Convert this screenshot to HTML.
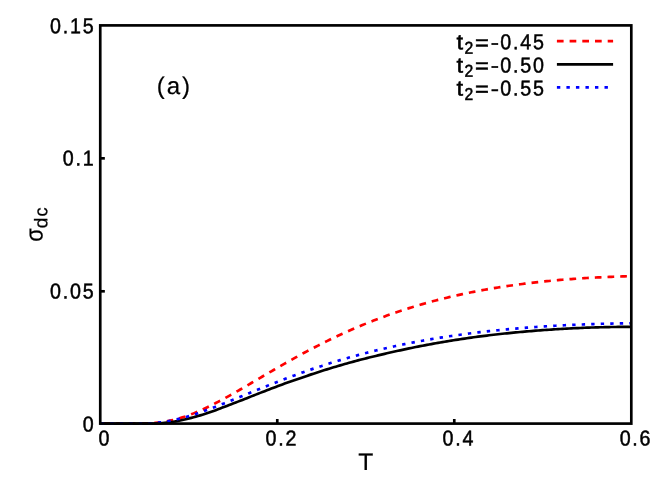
<!DOCTYPE html>
<html><head><meta charset="utf-8"><title>plot</title>
<style>
html,body{margin:0;padding:0;background:#fff;}
svg{display:block;will-change:transform;}
text{font-family:"Liberation Sans",sans-serif;fill:#000;}
</style></head>
<body>
<svg width="664" height="498" viewBox="0 0 664 498">
<rect width="664" height="498" fill="#fff"/>
<path d="M100.25,423.70 L102.47,423.70 L104.69,423.70 L106.92,423.70 L109.14,423.70 L111.36,423.70 L113.58,423.70 L115.80,423.70 L118.03,423.70 L120.25,423.70 L122.47,423.70 L124.69,423.70 L126.91,423.70 L129.14,423.70 L131.36,423.70 L133.58,423.70 L135.80,423.70 L138.02,423.70 L140.25,423.70 L142.47,423.70 L144.69,423.68 L146.91,423.59 L149.13,423.47 L151.36,423.33 L153.58,423.15 L155.80,422.94 L158.02,422.70 L160.24,422.42 L162.47,422.10 L164.69,421.74 L166.91,421.35 L169.13,420.91 L171.35,420.42 L173.57,419.90 L175.80,419.33 L178.02,418.72 L180.24,418.08 L182.46,417.39 L184.68,416.66 L186.91,415.89 L189.13,415.09 L191.35,414.25 L193.57,413.38 L195.79,412.47 L198.02,411.53 L200.24,410.57 L202.46,409.57 L204.68,408.54 L206.90,407.49 L209.13,406.41 L211.35,405.31 L213.57,404.19 L215.79,403.05 L218.01,401.89 L220.24,400.71 L222.46,399.52 L224.68,398.30 L226.90,397.08 L229.12,395.84 L231.35,394.60 L233.57,393.34 L235.79,392.07 L238.01,390.79 L240.23,389.51 L242.46,388.22 L244.68,386.93 L246.90,385.63 L249.12,384.32 L251.34,383.02 L253.57,381.71 L255.79,380.40 L258.01,379.10 L260.23,377.79 L262.45,376.48 L264.68,375.18 L266.90,373.87 L269.12,372.58 L271.34,371.28 L273.56,369.99 L275.79,368.70 L278.01,367.42 L280.23,366.14 L282.45,364.87 L284.67,363.60 L286.90,362.34 L289.12,361.09 L291.34,359.85 L293.56,358.61 L295.78,357.38 L298.01,356.16 L300.23,354.95 L302.45,353.74 L304.67,352.55 L306.89,351.36 L309.11,350.18 L311.34,349.02 L313.56,347.86 L315.78,346.71 L318.00,345.57 L320.22,344.45 L322.45,343.33 L324.67,342.22 L326.89,341.12 L329.11,340.04 L331.33,338.96 L333.56,337.90 L335.78,336.84 L338.00,335.80 L340.22,334.77 L342.44,333.74 L344.67,332.73 L346.89,331.73 L349.11,330.74 L351.33,329.77 L353.55,328.80 L355.78,327.84 L358.00,326.90 L360.22,325.96 L362.44,325.04 L364.66,324.13 L366.89,323.23 L369.11,322.34 L371.33,321.46 L373.55,320.59 L375.77,319.73 L378.00,318.88 L380.22,318.05 L382.44,317.22 L384.66,316.41 L386.88,315.60 L389.11,314.81 L391.33,314.03 L393.55,313.25 L395.77,312.49 L397.99,311.74 L400.22,311.00 L402.44,310.27 L404.66,309.55 L406.88,308.84 L409.10,308.14 L411.33,307.44 L413.55,306.76 L415.77,306.09 L417.99,305.43 L420.21,304.78 L422.44,304.14 L424.66,303.50 L426.88,302.88 L429.10,302.27 L431.32,301.66 L433.54,301.07 L435.77,300.48 L437.99,299.90 L440.21,299.34 L442.43,298.78 L444.65,298.23 L446.88,297.69 L449.10,297.15 L451.32,296.63 L453.54,296.11 L455.76,295.61 L457.99,295.11 L460.21,294.62 L462.43,294.14 L464.65,293.66 L466.87,293.20 L469.10,292.74 L471.32,292.29 L473.54,291.85 L475.76,291.41 L477.98,290.99 L480.21,290.57 L482.43,290.16 L484.65,289.75 L486.87,289.36 L489.09,288.97 L491.32,288.58 L493.54,288.21 L495.76,287.84 L497.98,287.48 L500.20,287.13 L502.43,286.78 L504.65,286.44 L506.87,286.11 L509.09,285.78 L511.31,285.46 L513.54,285.15 L515.76,284.84 L517.98,284.54 L520.20,284.24 L522.42,283.96 L524.65,283.67 L526.87,283.40 L529.09,283.13 L531.31,282.86 L533.53,282.61 L535.76,282.35 L537.98,282.11 L540.20,281.87 L542.42,281.63 L544.64,281.40 L546.87,281.18 L549.09,280.96 L551.31,280.75 L553.53,280.54 L555.75,280.34 L557.98,280.14 L560.20,279.95 L562.42,279.76 L564.64,279.58 L566.86,279.40 L569.08,279.23 L571.31,279.06 L573.53,278.90 L575.75,278.74 L577.97,278.59 L580.19,278.44 L582.42,278.29 L584.64,278.15 L586.86,278.02 L589.08,277.89 L591.30,277.76 L593.53,277.64 L595.75,277.52 L597.97,277.41 L600.19,277.30 L602.41,277.19 L604.64,277.09 L606.86,276.99 L609.08,276.90 L611.30,276.81 L613.52,276.73 L615.75,276.64 L617.97,276.56 L620.19,276.49 L622.41,276.42 L624.63,276.35 L626.86,276.29 L629.08,276.23 L631.30,276.17" fill="none" stroke="#ff0000" stroke-width="2.67" stroke-dasharray="6.7 6" stroke-dashoffset="-3.1"/>
<path d="M100.25,423.70 L102.47,423.70 L104.69,423.70 L106.92,423.70 L109.14,423.70 L111.36,423.70 L113.58,423.70 L115.80,423.70 L118.03,423.70 L120.25,423.70 L122.47,423.70 L124.69,423.70 L126.91,423.70 L129.14,423.70 L131.36,423.70 L133.58,423.70 L135.80,423.70 L138.02,423.70 L140.25,423.70 L142.47,423.70 L144.69,423.70 L146.91,423.70 L149.13,423.70 L151.36,423.70 L153.58,423.70 L155.80,423.63 L158.02,423.50 L160.24,423.33 L162.47,423.14 L164.69,422.91 L166.91,422.66 L169.13,422.38 L171.35,422.07 L173.57,421.72 L175.80,421.33 L178.02,420.90 L180.24,420.44 L182.46,419.97 L184.68,419.48 L186.91,418.96 L189.13,418.42 L191.35,417.85 L193.57,417.25 L195.79,416.64 L198.02,416.00 L200.24,415.35 L202.46,414.68 L204.68,413.99 L206.90,413.27 L209.13,412.52 L211.35,411.75 L213.57,410.95 L215.79,410.14 L218.01,409.31 L220.24,408.47 L222.46,407.62 L224.68,406.76 L226.90,405.90 L229.12,405.05 L231.35,404.20 L233.57,403.34 L235.79,402.48 L238.01,401.62 L240.23,400.76 L242.46,399.89 L244.68,399.02 L246.90,398.14 L249.12,397.26 L251.34,396.38 L253.57,395.50 L255.79,394.63 L258.01,393.75 L260.23,392.88 L262.45,392.01 L264.68,391.15 L266.90,390.29 L269.12,389.44 L271.34,388.59 L273.56,387.75 L275.79,386.91 L278.01,386.08 L280.23,385.25 L282.45,384.43 L284.67,383.62 L286.90,382.82 L289.12,382.03 L291.34,381.24 L293.56,380.46 L295.78,379.69 L298.01,378.93 L300.23,378.16 L302.45,377.40 L304.67,376.65 L306.89,375.89 L309.11,375.13 L311.34,374.39 L313.56,373.65 L315.78,372.92 L318.00,372.19 L320.22,371.48 L322.45,370.77 L324.67,370.07 L326.89,369.37 L329.11,368.68 L331.33,368.00 L333.56,367.33 L335.78,366.67 L338.00,366.01 L340.22,365.36 L342.44,364.71 L344.67,364.08 L346.89,363.45 L349.11,362.82 L351.33,362.21 L353.55,361.60 L355.78,361.00 L358.00,360.41 L360.22,359.83 L362.44,359.25 L364.66,358.68 L366.89,358.12 L369.11,357.56 L371.33,357.01 L373.55,356.47 L375.77,355.93 L378.00,355.40 L380.22,354.87 L382.44,354.35 L384.66,353.83 L386.88,353.32 L389.11,352.81 L391.33,352.30 L393.55,351.80 L395.77,351.31 L397.99,350.81 L400.22,350.33 L402.44,349.84 L404.66,349.37 L406.88,348.89 L409.10,348.43 L411.33,347.97 L413.55,347.51 L415.77,347.06 L417.99,346.61 L420.21,346.18 L422.44,345.74 L424.66,345.32 L426.88,344.90 L429.10,344.48 L431.32,344.08 L433.54,343.68 L435.77,343.28 L437.99,342.89 L440.21,342.50 L442.43,342.12 L444.65,341.74 L446.88,341.37 L449.10,341.01 L451.32,340.64 L453.54,340.29 L455.76,339.94 L457.99,339.59 L460.21,339.25 L462.43,338.91 L464.65,338.58 L466.87,338.25 L469.10,337.92 L471.32,337.61 L473.54,337.29 L475.76,336.99 L477.98,336.69 L480.21,336.39 L482.43,336.11 L484.65,335.82 L486.87,335.55 L489.09,335.28 L491.32,335.02 L493.54,334.76 L495.76,334.50 L497.98,334.25 L500.20,334.01 L502.43,333.77 L504.65,333.53 L506.87,333.30 L509.09,333.08 L511.31,332.85 L513.54,332.63 L515.76,332.42 L517.98,332.21 L520.20,332.00 L522.42,331.80 L524.65,331.61 L526.87,331.42 L529.09,331.23 L531.31,331.05 L533.53,330.87 L535.76,330.70 L537.98,330.53 L540.20,330.36 L542.42,330.20 L544.64,330.04 L546.87,329.88 L549.09,329.73 L551.31,329.57 L553.53,329.43 L555.75,329.28 L557.98,329.14 L560.20,329.00 L562.42,328.87 L564.64,328.74 L566.86,328.61 L569.08,328.49 L571.31,328.38 L573.53,328.26 L575.75,328.16 L577.97,328.05 L580.19,327.96 L582.42,327.86 L584.64,327.77 L586.86,327.69 L589.08,327.61 L591.30,327.53 L593.53,327.46 L595.75,327.39 L597.97,327.33 L600.19,327.27 L602.41,327.21 L604.64,327.16 L606.86,327.12 L609.08,327.08 L611.30,327.04 L613.52,327.01 L615.75,326.98 L617.97,326.95 L620.19,326.93 L622.41,326.92 L624.63,326.90 L626.86,326.90 L629.08,326.89 L631.30,326.90" fill="none" stroke="#000" stroke-width="2.67"/>
<path d="M100.25,423.70 L102.47,423.70 L104.69,423.70 L106.92,423.70 L109.14,423.70 L111.36,423.70 L113.58,423.70 L115.80,423.70 L118.03,423.70 L120.25,423.70 L122.47,423.70 L124.69,423.70 L126.91,423.70 L129.14,423.70 L131.36,423.70 L133.58,423.70 L135.80,423.70 L138.02,423.70 L140.25,423.70 L142.47,423.70 L144.69,423.64 L146.91,423.54 L149.13,423.41 L151.36,423.26 L153.58,423.08 L155.80,422.88 L158.02,422.64 L160.24,422.37 L162.47,422.07 L164.69,421.73 L166.91,421.37 L169.13,420.97 L171.35,420.54 L173.57,420.07 L175.80,419.58 L178.02,419.06 L180.24,418.50 L182.46,417.92 L184.68,417.32 L186.91,416.68 L189.13,416.02 L191.35,415.34 L193.57,414.64 L195.79,413.92 L198.02,413.17 L200.24,412.41 L202.46,411.63 L204.68,410.84 L206.90,410.03 L209.13,409.21 L211.35,408.37 L213.57,407.52 L215.79,406.67 L218.01,405.80 L220.24,404.93 L222.46,404.04 L224.68,403.15 L226.90,402.26 L229.12,401.36 L231.35,400.46 L233.57,399.55 L235.79,398.64 L238.01,397.73 L240.23,396.82 L242.46,395.90 L244.68,394.99 L246.90,394.08 L249.12,393.16 L251.34,392.25 L253.57,391.34 L255.79,390.44 L258.01,389.53 L260.23,388.63 L262.45,387.73 L264.68,386.84 L266.90,385.95 L269.12,385.07 L271.34,384.19 L273.56,383.31 L275.79,382.44 L278.01,381.58 L280.23,380.72 L282.45,379.87 L284.67,379.02 L286.90,378.18 L289.12,377.34 L291.34,376.52 L293.56,375.70 L295.78,374.88 L298.01,374.08 L300.23,373.28 L302.45,372.48 L304.67,371.70 L306.89,370.92 L309.11,370.15 L311.34,369.38 L313.56,368.63 L315.78,367.88 L318.00,367.14 L320.22,366.41 L322.45,365.68 L324.67,364.96 L326.89,364.25 L329.11,363.55 L331.33,362.85 L333.56,362.17 L335.78,361.49 L338.00,360.81 L340.22,360.15 L342.44,359.49 L344.67,358.84 L346.89,358.20 L349.11,357.57 L351.33,356.94 L353.55,356.33 L355.78,355.71 L358.00,355.11 L360.22,354.52 L362.44,353.93 L364.66,353.35 L366.89,352.77 L369.11,352.21 L371.33,351.65 L373.55,351.09 L375.77,350.55 L378.00,350.01 L380.22,349.48 L382.44,348.96 L384.66,348.44 L386.88,347.93 L389.11,347.43 L391.33,346.94 L393.55,346.45 L395.77,345.97 L397.99,345.49 L400.22,345.02 L402.44,344.56 L404.66,344.11 L406.88,343.66 L409.10,343.21 L411.33,342.78 L413.55,342.35 L415.77,341.93 L417.99,341.51 L420.21,341.10 L422.44,340.69 L424.66,340.30 L426.88,339.90 L429.10,339.52 L431.32,339.14 L433.54,338.76 L435.77,338.39 L437.99,338.03 L440.21,337.67 L442.43,337.32 L444.65,336.97 L446.88,336.63 L449.10,336.30 L451.32,335.97 L453.54,335.65 L455.76,335.33 L457.99,335.01 L460.21,334.70 L462.43,334.40 L464.65,334.10 L466.87,333.81 L469.10,333.52 L471.32,333.24 L473.54,332.96 L475.76,332.69 L477.98,332.42 L480.21,332.16 L482.43,331.90 L484.65,331.65 L486.87,331.40 L489.09,331.15 L491.32,330.91 L493.54,330.68 L495.76,330.44 L497.98,330.22 L500.20,330.00 L502.43,329.78 L504.65,329.56 L506.87,329.35 L509.09,329.15 L511.31,328.95 L513.54,328.75 L515.76,328.56 L517.98,328.37 L520.20,328.18 L522.42,328.00 L524.65,327.83 L526.87,327.65 L529.09,327.48 L531.31,327.32 L533.53,327.16 L535.76,327.00 L537.98,326.84 L540.20,326.69 L542.42,326.55 L544.64,326.40 L546.87,326.26 L549.09,326.13 L551.31,325.99 L553.53,325.86 L555.75,325.74 L557.98,325.61 L560.20,325.49 L562.42,325.38 L564.64,325.26 L566.86,325.15 L569.08,325.05 L571.31,324.94 L573.53,324.84 L575.75,324.74 L577.97,324.65 L580.19,324.56 L582.42,324.47 L584.64,324.38 L586.86,324.30 L589.08,324.22 L591.30,324.14 L593.53,324.07 L595.75,323.99 L597.97,323.92 L600.19,323.86 L602.41,323.79 L604.64,323.73 L606.86,323.68 L609.08,323.62 L611.30,323.57 L613.52,323.52 L615.75,323.47 L617.97,323.42 L620.19,323.38 L622.41,323.34 L624.63,323.30 L626.86,323.26 L629.08,323.23 L631.30,323.20" fill="none" stroke="#0000ff" stroke-width="2.67" stroke-dasharray="3.4 6.12" stroke-dashoffset="-0.53"/>
<rect x="100.25" y="25.4" width="531.05" height="398.20" fill="none" stroke="#000" stroke-width="2.67"/>
<line x1="100.25" y1="291.30" x2="104.85" y2="291.30" stroke="#000" stroke-width="2.67"/>
<line x1="100.25" y1="158.35" x2="104.85" y2="158.35" stroke="#000" stroke-width="2.67"/>
<line x1="277.27" y1="423.6" x2="277.27" y2="419.0" stroke="#000" stroke-width="2.67"/>
<line x1="454.28" y1="423.6" x2="454.28" y2="419.0" stroke="#000" stroke-width="2.67"/>
<line x1="556.9" y1="41.2" x2="613.1" y2="41.2" stroke="#ff0000" stroke-width="2.67" stroke-dasharray="6.7 6"/>
<line x1="556.9" y1="64.3" x2="613.1" y2="64.3" stroke="#000" stroke-width="2.67"/>
<line x1="556.9" y1="87.4" x2="613.1" y2="87.4" stroke="#0000ff" stroke-width="2.67" stroke-dasharray="3.4 6.12"/>
<text transform="translate(49.18,33.25) rotate(0.03) scale(0.91,1)" font-size="21.6" stroke="#000" stroke-width="0.5" text-anchor="middle" x="6.99 17.97 28.95 42.92">0.15</text>
<text transform="translate(61.90,165.50) rotate(0.03) scale(0.91,1)" font-size="21.6" stroke="#000" stroke-width="0.5" text-anchor="middle" x="6.99 17.97 28.95">0.1</text>
<text transform="translate(49.18,298.55) rotate(0.03) scale(0.91,1)" font-size="21.6" stroke="#000" stroke-width="0.5" text-anchor="middle" x="6.99 17.97 28.95 42.92">0.05</text>
<text transform="translate(81.89,431.45) rotate(0.03) scale(0.91,1)" font-size="21.6" stroke="#000" stroke-width="0.5" text-anchor="middle" x="6.99">0</text>
<text transform="translate(97.69,445.40) rotate(0.03) scale(0.91,1)" font-size="21.6" stroke="#000" stroke-width="0.5" text-anchor="middle" x="6.99">0</text>
<text transform="translate(264.71,445.40) rotate(0.03) scale(0.91,1)" font-size="21.6" stroke="#000" stroke-width="0.5" text-anchor="middle" x="6.99 17.97 28.95">0.2</text>
<text transform="translate(441.73,445.40) rotate(0.03) scale(0.91,1)" font-size="21.6" stroke="#000" stroke-width="0.5" text-anchor="middle" x="6.99 17.97 28.95">0.4</text>
<text transform="translate(618.75,445.40) rotate(0.03) scale(0.91,1)" font-size="21.6" stroke="#000" stroke-width="0.5" text-anchor="middle" x="6.99 17.97 28.95">0.6</text>
<text transform="translate(358.31,470.00) rotate(0.03) scale(1.03,1)" font-size="23.9" stroke="#000" stroke-width="0.2" text-anchor="middle" x="7.18">T</text>
<text transform="translate(155.35,94.00) rotate(0.03) scale(1.0,1)" font-size="24.1" stroke="#000" stroke-width="0.2" text-anchor="middle" x="5.45 18.11 30.76">(a)</text>
<text transform="translate(455.80,49.35) rotate(0.03) scale(1.1,1)" font-size="21.6" stroke="#000" stroke-width="0.5" text-anchor="middle" x="3.58">t</text>
<text transform="translate(463.68,53.75) rotate(0.03) scale(0.91,1)" font-size="17.28" stroke="#000" stroke-width="0.5" text-anchor="middle" x="5.59">2</text>
<text transform="translate(473.85,49.95) rotate(0.03) scale(1.1,1)" font-size="21.6" stroke="#000" stroke-width="0.5" text-anchor="middle" x="7.44">=</text>
<text transform="translate(490.22,49.75) rotate(0.03) scale(1.14,1)" font-size="21.6" stroke="#000" stroke-width="0.5" text-anchor="middle" x="3.98">-</text>
<text transform="translate(499.30,49.35) rotate(0.03) scale(0.91,1)" font-size="21.6" stroke="#000" stroke-width="0.5" text-anchor="middle" x="6.99 17.97 28.95 42.92">0.45</text>
<text transform="translate(455.80,72.45) rotate(0.03) scale(1.1,1)" font-size="21.6" stroke="#000" stroke-width="0.5" text-anchor="middle" x="3.58">t</text>
<text transform="translate(463.68,76.85) rotate(0.03) scale(0.91,1)" font-size="17.28" stroke="#000" stroke-width="0.5" text-anchor="middle" x="5.59">2</text>
<text transform="translate(473.85,73.05) rotate(0.03) scale(1.1,1)" font-size="21.6" stroke="#000" stroke-width="0.5" text-anchor="middle" x="7.44">=</text>
<text transform="translate(490.22,72.85) rotate(0.03) scale(1.14,1)" font-size="21.6" stroke="#000" stroke-width="0.5" text-anchor="middle" x="3.98">-</text>
<text transform="translate(499.30,72.45) rotate(0.03) scale(0.91,1)" font-size="21.6" stroke="#000" stroke-width="0.5" text-anchor="middle" x="6.99 17.97 28.95 42.92">0.50</text>
<text transform="translate(455.80,95.55) rotate(0.03) scale(1.1,1)" font-size="21.6" stroke="#000" stroke-width="0.5" text-anchor="middle" x="3.58">t</text>
<text transform="translate(463.68,99.95) rotate(0.03) scale(0.91,1)" font-size="17.28" stroke="#000" stroke-width="0.5" text-anchor="middle" x="5.59">2</text>
<text transform="translate(473.85,96.15) rotate(0.03) scale(1.1,1)" font-size="21.6" stroke="#000" stroke-width="0.5" text-anchor="middle" x="7.44">=</text>
<text transform="translate(490.22,95.95) rotate(0.03) scale(1.14,1)" font-size="21.6" stroke="#000" stroke-width="0.5" text-anchor="middle" x="3.98">-</text>
<text transform="translate(499.30,95.55) rotate(0.03) scale(0.91,1)" font-size="21.6" stroke="#000" stroke-width="0.5" text-anchor="middle" x="6.99 17.97 28.95 42.92">0.55</text>
<text transform="translate(42.5,0) rotate(-90) translate(-242.20,0.00) rotate(0.03) scale(0.89,1)" font-size="24.3" stroke="#000" stroke-width="0.3" text-anchor="middle" x="8.09">σ</text>
<text transform="translate(42.5,0) rotate(-90) translate(-228.98,4.70) rotate(0.03) scale(1.04,1)" font-size="18.3" stroke="#000" stroke-width="0.3" text-anchor="middle" x="5.75">d</text>
<text transform="translate(42.5,0) rotate(-90) translate(-216.90,4.70) rotate(0.03) scale(1.0,1)" font-size="18.3" stroke="#000" stroke-width="0.3" text-anchor="middle" x="5.00">c</text>
</svg>
</body></html>
